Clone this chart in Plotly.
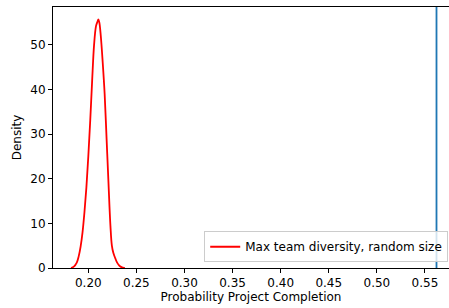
import plotly.graph_objects as go

# KDE curve
kde_x = [0.182, 0.185, 0.188, 0.190, 0.192, 0.194, 0.196, 0.198, 0.200, 0.202, 0.204,
         0.206, 0.208, 0.2095, 0.2105, 0.2115, 0.213, 0.215, 0.217, 0.219, 0.221,
         0.223, 0.2245, 0.226, 0.228, 0.230, 0.232, 0.234, 0.236, 0.238]
kde_y = [0.0, 0.3, 1.2, 2.6, 4.8, 8.0, 12.5, 18.0, 25.0, 33.0, 42.0,
         50.0, 54.2, 55.2, 55.7, 55.0, 52.0, 46.0, 39.0, 29.0, 19.0,
         9.5, 5.0, 3.4, 2.2, 1.2, 0.6, 0.25, 0.06, 0.0]
vline_x = 0.562
series_name = "Max team diversity, random size"

x_ticks = [0.20, 0.25, 0.30, 0.35, 0.40, 0.45, 0.50, 0.55]
y_ticks = [0, 10, 20, 30, 40, 50]

fig = go.Figure()
fig.add_trace(go.Scatter(x=kde_x, y=kde_y, mode="lines", name=series_name,
                         line=dict(color="red", width=1.8, shape="spline")))
fig.add_shape(type="line", xref="x", yref="paper", x0=vline_x, x1=vline_x, y0=0, y1=1,
              line=dict(color="#1f77b4", width=1.8))

fig.update_layout(
    width=449, height=308,
    margin=dict(l=53, r=0, t=7, b=40, autoexpand=False),
    paper_bgcolor="white", plot_bgcolor="white",
    font=dict(family="DejaVu Sans", size=12, color="black"),
    showlegend=True,
    legend=dict(x=0.998, y=0.022, xanchor="right", yanchor="bottom",
                bgcolor="rgba(255,255,255,0.8)", bordercolor="#cccccc", borderwidth=1,
                font=dict(size=12), itemwidth=30, tracegroupgap=0),
)
fig.update_xaxes(range=[0.1633, 0.575], tickvals=x_ticks,
                 ticktext=[f"{v:.2f}" for v in x_ticks], automargin=True,
                 showgrid=False, zeroline=False, showline=True, mirror=True,
                 linecolor="black", linewidth=1, ticks="outside", ticklen=4,
                 tickcolor="black", title=dict(text="Probability Project Completion",
                                               standoff=3, font=dict(size=12)))
fig.update_yaxes(range=[0, 58.5], tickvals=y_ticks, automargin=True,
                 showgrid=False, zeroline=False, showline=True, mirror=False,
                 linecolor="black", linewidth=1, ticks="outside", ticklen=4,
                 tickcolor="black", title=dict(text="Density", standoff=6,
                                               font=dict(size=12)))

fig.write_html("out.html", config={"displayModeBar": False},
               post_script="document.body.style.margin='0';")
